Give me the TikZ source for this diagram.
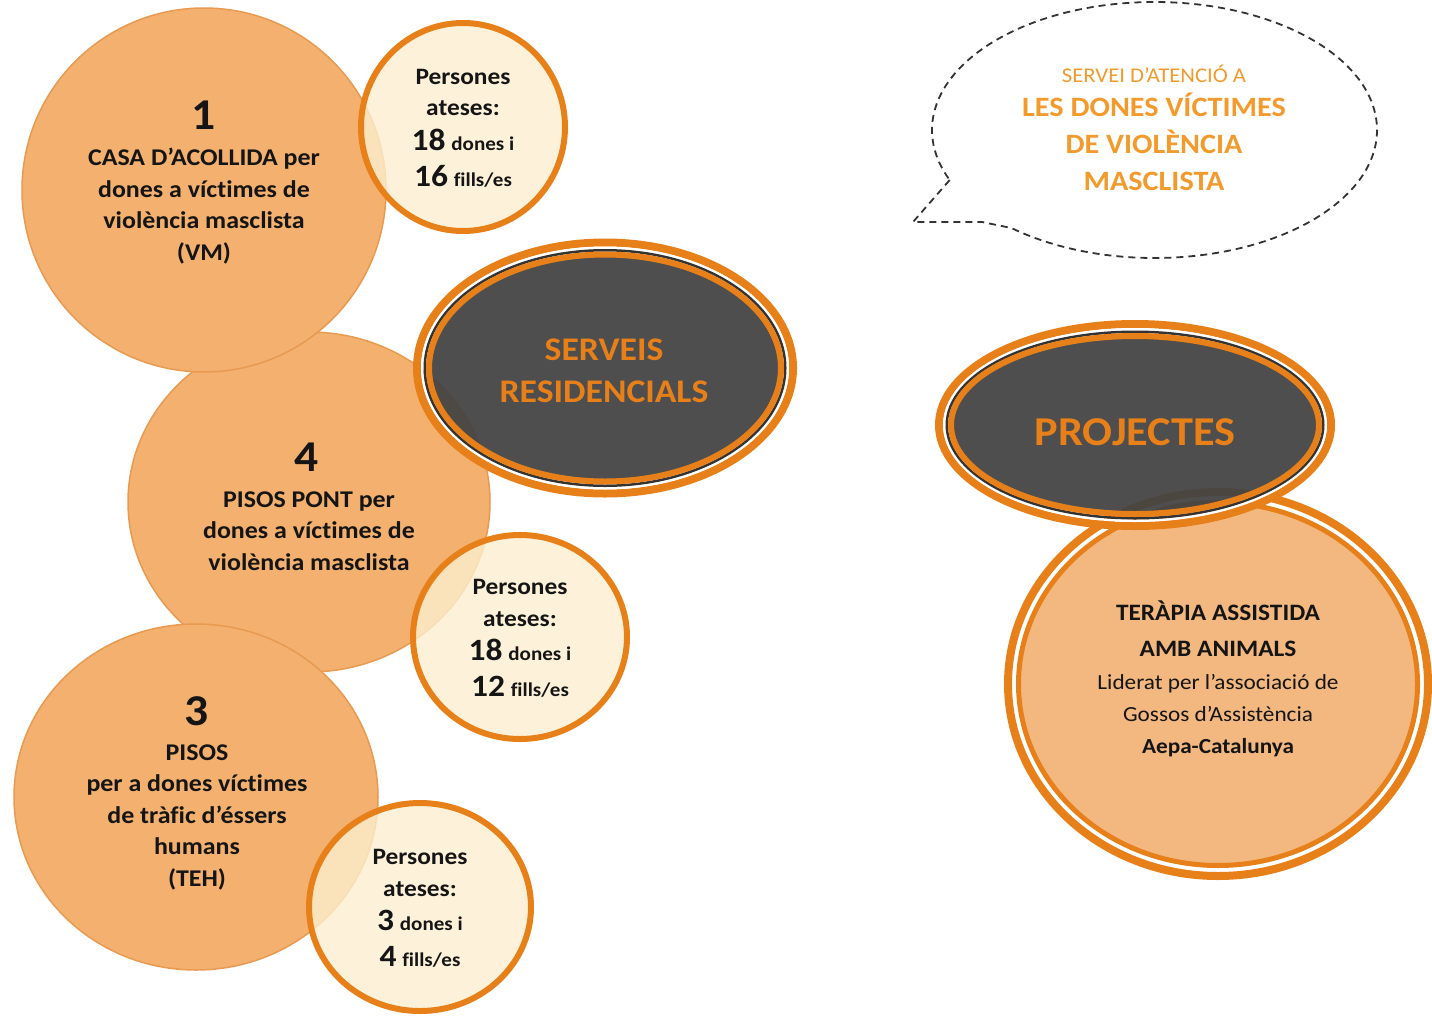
\documentclass[tikz,border=0pt]{standalone}
\usepackage{fontspec}
\setmainfont{Carlito}[FakeStretch=1.08, Ligatures=CommonOff]
\usetikzlibrary{shapes.geometric,calc}
\definecolor{bigfill}{HTML}{F3B06E}
\definecolor{bigedge}{HTML}{E99A50}
\definecolor{cream}{HTML}{FCEFCF}
\definecolor{ringc}{HTML}{E8801A}
\definecolor{darkc}{HTML}{434343}
\definecolor{linec}{HTML}{333333}
\definecolor{tfill}{HTML}{F2B880}
\definecolor{bubtxt}{HTML}{F39A2C}
\definecolor{txtc}{HTML}{151515}
\begin{document}
\begin{tikzpicture}[x=1pt,y=-1pt,
  shp/.style={ellipse, inner sep=0pt, outer sep=0pt},
  bigc/.style={shp, draw=bigedge, line width=1.5pt, fill=bigfill},
  smallc/.style={shp, draw=ringc, line width=6pt, fill=cream, fill opacity=0.8},
  oring/.style={shp, draw=ringc, line width=8pt},
  wring/.style={shp, draw=white, line width=2.5pt},
  gring/.style={shp, draw=linec, line width=2.5pt},
  iring/.style={shp, draw=ringc, line width=6pt, fill=darkc, fill opacity=0.94},
  numtxt/.style={font=\fontsize{44}{44}\selectfont\bfseries, text=txtc, inner sep=0pt},
  bodytxt/.style={font=\fontsize{24}{31.5}\selectfont\bfseries, align=center, text=txtc, inner sep=0pt},
  smalltxt/.style={font=\fontsize{23.5}{34}\selectfont\bfseries, align=center, text=txtc, inner sep=0pt},
  headtxt/.style={font=\fontsize{33}{42}\selectfont\bfseries, align=center, text=ringc, inner sep=0pt},
]
\useasboundingbox (0,0) rectangle (1432,1015);
\newcommand{\bignum}[1]{{\fontsize{31}{31}\selectfont #1}}
\newcommand{\smw}[1]{{\fontsize{19.5}{19.5}\selectfont #1}}

% big circles
\node[bigc, minimum width=362pt, minimum height=340pt] (c4) at (309,502) {};
\node[bigc, minimum width=364pt, minimum height=364pt] (c1) at (204,190) {};
\node[bigc, minimum width=364pt, minimum height=346pt] (c3) at (196,797) {};

% serveis residencials ellipse
\node[oring, minimum width=376pt, minimum height=251pt] (sro) at (605,368) {};
\node[wring, minimum width=365.5pt, minimum height=240.5pt] (srw) at (605,368) {};
\node[gring, minimum width=360.5pt, minimum height=235.5pt] (srg) at (605,368) {};
\node[iring, minimum width=352pt, minimum height=227pt] (sri) at (605,368) {};

% small circles
\node[smallc, minimum width=204pt, minimum height=208pt] (s1) at (463,127) {};
\node[smallc, minimum width=214pt, minimum height=204pt] (s2) at (520,637) {};
\node[smallc, minimum width=222pt, minimum height=208pt] (s3) at (420,907) {};

% texts of big circles
\node[numtxt] (c1n) at (204,115) {1};
\node[bodytxt] (c1t) at (204,206) {CASA D’ACOLLIDA per\\dones a víctimes de\\violència masclista\\(VM)};
\node[numtxt] (c4n) at (307,457) {4};
\node[bodytxt] (c4t) at (309,531) {PISOS PONT per\\dones a víctimes de\\violència masclista};
\node[numtxt] (c3n) at (197,711) {3};
\node[bodytxt] (c3t) at (197,817) {PISOS\\per a dones víctimes\\de tràfic d’éssers\\humans\\(TEH)};

% texts of small circles
\node[smalltxt] (s1t) at (463,128) {Persones\\[-3pt]ateses:\\[1pt]\bignum{18} \smw{dones i}\\[2pt]\bignum{16} \smw{fills/es}};
\node[smalltxt] (s2t) at (520,638) {Persones\\[-2pt]ateses:\\\bignum{18} \smw{dones i}\\[2pt]\bignum{12} \smw{fills/es}};
\node[smalltxt] (s3t) at (420,908) {Persones\\[-2pt]ateses:\\\bignum{3} \smw{dones i}\\[2pt]\bignum{4} \smw{fills/es}};

\node[headtxt] (srt) at (604,371) {SERVEIS\\RESIDENCIALS};

% Teràpia circle
\node[shp, draw=ringc, line width=8pt, fill=white, minimum width=420pt, minimum height=384pt] (to) at (1218,684) {};
\node[shp, draw=ringc, line width=5pt, fill=tfill, minimum width=399pt, minimum height=363pt] (ti) at (1218,684) {};

% projectes ellipse
\node[oring, minimum width=392pt, minimum height=202pt] (pro) at (1135,425) {};
\node[wring, minimum width=381.5pt, minimum height=191.5pt] (prw) at (1135,425) {};
\node[gring, minimum width=376.5pt, minimum height=186.5pt] (prg) at (1135,425) {};
\node[iring, minimum width=368pt, minimum height=178pt] (pri) at (1135,425) {};
\node[headtxt, font=\fontsize{41}{41}\selectfont\bfseries] (prt) at (1135,432) {PROJECTES};

\node[font=\fontsize{23.5}{36}\selectfont\bfseries, text=txtc, align=center, inner sep=0pt] (tt1) at (1218,629) {TERÀPIA ASSISTIDA\\AMB ANIMALS};
\node[font=\fontsize{21.5}{32}\selectfont, text=txtc, align=center, inner sep=0pt] (tt2) at (1218,716) {Liderat per l’associació de\\Gossos d’Assistència\\\textbf{Aepa-Catalunya}};

% speech bubble
\coordinate (bc) at (1154.5,130);
\coordinate (tip) at (913,222);
\coordinate (tail) at (982,222);
\coordinate (bs) at ($(bc)+({222.5*cos(157)},{128*sin(157)})$);
\coordinate (be) at ($(bc)+({222.5*cos(130)},{128*sin(130)})$);
\draw[linec, line width=1.8pt, dash pattern=on 7pt off 5pt, line join=round]
  (bs) -- (tip) -- (tail) -- (be)
  arc[start angle=130, end angle=-203, x radius=222.5, y radius=128] -- cycle;
\node[font=\fontsize{21}{21}\selectfont, text=bubtxt, inner sep=0pt] (b1) at (1154,74) {SERVEI D’ATENCIÓ A};
\node[font=\fontsize{28}{37}\selectfont\bfseries, text=bubtxt, align=center, inner sep=0pt] (b2) at (1154,142) {LES DONES VÍCTIMES\\DE VIOLÈNCIA\\MASCLISTA};
\end{tikzpicture}
\end{document}
